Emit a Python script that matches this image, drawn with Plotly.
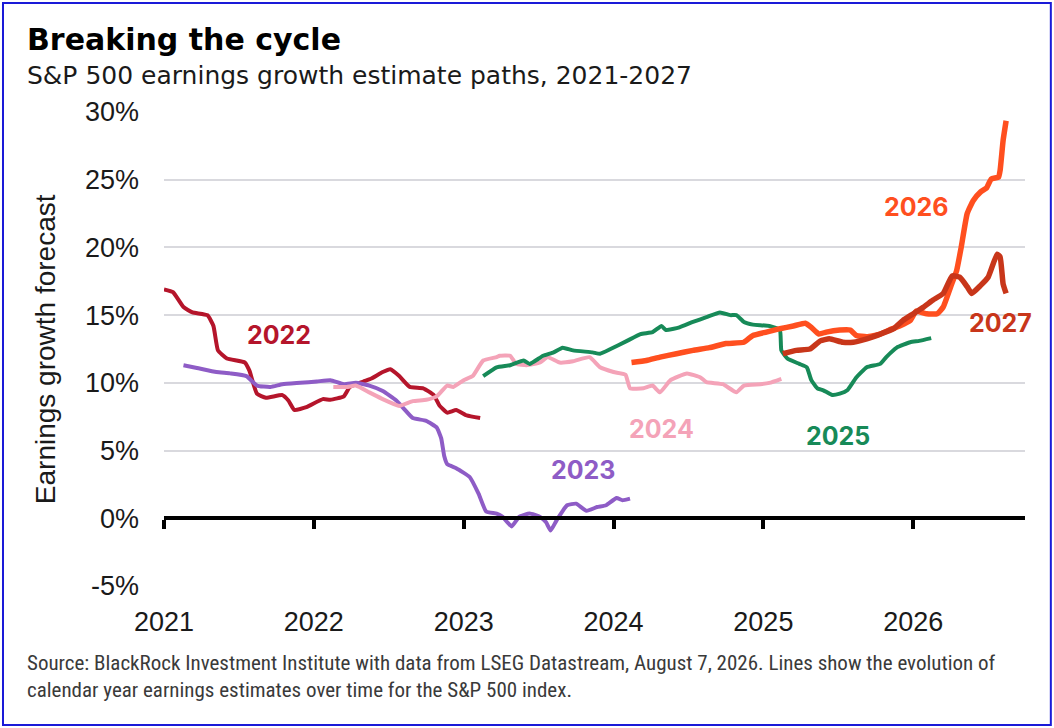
import plotly.graph_objects as go

# Earnings growth estimate paths (x = decimal year, y = % growth forecast)
yr_2022 = [2021.00, 2021.06, 2021.13, 2021.19, 2021.29, 2021.33, 2021.36, 2021.42, 2021.54, 2021.57,
           2021.62, 2021.68, 2021.79, 2021.83, 2021.87, 2021.95, 2022.06, 2022.11, 2022.20, 2022.24,
           2022.33, 2022.38, 2022.46, 2022.51, 2022.57, 2022.64, 2022.73, 2022.80, 2022.84, 2022.89,
           2022.95, 2023.02, 2023.11]
val_2022 = [16.9, 16.7, 15.6, 15.2, 15.0, 14.2, 12.4, 11.8, 11.5, 10.9,
            9.2, 8.9, 9.1, 8.7, 8.0, 8.2, 8.8, 8.75, 9.0, 9.7,
            10.1, 10.3, 10.8, 11.0, 10.5, 9.7, 9.6, 9.1, 8.3, 7.8,
            8.0, 7.6, 7.4]

yr_2023 = [2021.13, 2021.22, 2021.35, 2021.44, 2021.55, 2021.62, 2021.71, 2021.79, 2021.91, 2022.02,
           2022.11, 2022.20, 2022.28, 2022.37, 2022.46, 2022.55, 2022.60, 2022.66, 2022.75, 2022.82,
           2022.85, 2022.87, 2022.89, 2022.95, 2023.04, 2023.10, 2023.15, 2023.22, 2023.26, 2023.32,
           2023.37, 2023.44, 2023.51, 2023.55, 2023.58, 2023.62, 2023.69, 2023.75, 2023.82, 2023.89,
           2023.95, 2024.02, 2024.06, 2024.11]
val_2023 = [11.3, 11.1, 10.8, 10.7, 10.5, 9.8, 9.7, 9.9, 10.0, 10.1,
            10.2, 9.9, 10.0, 9.8, 9.4, 8.7, 8.1, 7.4, 7.2, 6.7,
            5.9, 4.6, 4.0, 3.7, 3.05, 1.8, 0.5, 0.35, 0.1, -0.6,
            0.1, 0.35, 0.1, -0.3, -0.9, -0.15, 0.96, 1.08, 0.55, 0.83,
            0.96, 1.5, 1.33, 1.45]

yr_2024 = [2022.13, 2022.22, 2022.28, 2022.37, 2022.46, 2022.57, 2022.66, 2022.75, 2022.82, 2022.89,
           2022.93, 2023.00, 2023.06, 2023.13, 2023.22, 2023.24, 2023.31, 2023.35, 2023.42, 2023.51,
           2023.56, 2023.64, 2023.73, 2023.84, 2023.91, 2024.00, 2024.08, 2024.11, 2024.20, 2024.26,
           2024.31, 2024.38, 2024.49, 2024.58, 2024.62, 2024.73, 2024.82, 2024.87, 2024.98, 2025.04,
           2025.12]
val_2024 = [9.7, 9.7, 9.8, 9.3, 8.8, 8.3, 8.65, 8.75, 9.0, 9.8,
            9.7, 10.2, 10.5, 11.65, 11.9, 12.0, 12.0, 11.4, 11.3, 11.5,
            11.9, 11.5, 11.6, 11.9, 11.15, 10.8, 10.6, 9.6, 9.6, 9.8,
            9.3, 10.2, 10.7, 10.4, 10.05, 9.9, 9.3, 9.8, 9.9, 10.0,
            10.3]

yr_2025 = [2023.13, 2023.22, 2023.31, 2023.40, 2023.44, 2023.53, 2023.60, 2023.66, 2023.73, 2023.86,
           2023.91, 2023.98, 2024.09, 2024.18, 2024.26, 2024.32, 2024.35, 2024.44, 2024.53, 2024.62,
           2024.71, 2024.78, 2024.82, 2024.87, 2024.93, 2025.04, 2025.11, 2025.12, 2025.16, 2025.24,
           2025.29, 2025.32, 2025.36, 2025.40, 2025.46, 2025.51, 2025.56, 2025.62, 2025.69, 2025.78,
           2025.82, 2025.89, 2025.98, 2026.04, 2026.12]
val_2025 = [10.5, 11.15, 11.3, 11.65, 11.4, 12.0, 12.25, 12.6, 12.4, 12.25,
            12.15, 12.5, 13.1, 13.6, 13.75, 14.2, 13.9, 14.1, 14.5, 14.85,
            15.2, 15.0, 15.0, 14.5, 14.3, 14.2, 13.9, 12.4, 11.8, 11.4,
            11.15, 10.2, 9.6, 9.45, 9.1, 9.2, 9.45, 10.4, 11.15, 11.4,
            11.9, 12.6, 13.0, 13.1, 13.3]

yr_2026 = [2024.12, 2024.22, 2024.31, 2024.42, 2024.53, 2024.64, 2024.75, 2024.87, 2024.93, 2025.02,
           2025.11, 2025.20, 2025.28, 2025.32, 2025.37, 2025.42, 2025.51, 2025.58, 2025.62, 2025.69,
           2025.78, 2025.84, 2025.91, 2025.98, 2026.02, 2026.09, 2026.16, 2026.20, 2026.25, 2026.29,
           2026.32, 2026.36, 2026.40, 2026.45, 2026.49, 2026.52, 2026.57, 2026.58, 2026.60, 2026.62]
val_2026 = [11.5, 11.65, 11.9, 12.15, 12.4, 12.6, 12.9, 13.0, 13.5, 13.75,
            14.0, 14.2, 14.4, 14.1, 13.6, 13.75, 13.9, 13.9, 13.5, 13.4,
            13.6, 13.9, 14.2, 14.6, 15.3, 15.1, 15.1, 15.6, 17.1, 18.3,
            20.0, 22.5, 23.45, 24.1, 24.4, 25.05, 25.2, 25.7, 27.9, 29.35]

yr_2027 = [2025.13, 2025.22, 2025.31, 2025.38, 2025.44, 2025.53, 2025.60, 2025.69, 2025.78, 2025.87,
           2025.93, 2026.00, 2026.07, 2026.13, 2026.20, 2026.26, 2026.31, 2026.36, 2026.39, 2026.45,
           2026.50, 2026.56, 2026.58, 2026.60, 2026.62]
val_2027 = [12.15, 12.4, 12.5, 13.1, 13.25, 13.0, 13.0, 13.25, 13.6, 14.0,
            14.6, 15.1, 15.6, 16.1, 16.6, 17.9, 17.8, 17.1, 16.6, 17.2,
            17.8, 19.5, 19.3, 17.3, 16.6]

series_names = ["2022", "2023", "2024", "2025", "2026", "2027"]
series_x = [yr_2022, yr_2023, yr_2024, yr_2025, yr_2026, yr_2027]
series_y = [val_2022, val_2023, val_2024, val_2025, val_2026, val_2027]
colors = ["#B5152B", "#8E5CC6", "#F4A3B8", "#178A58", "#FF4F1F", "#C8361A"]
widths = [4, 4, 4, 4, 5.5, 5.5]
# the last two paths sit on the overlay axis that draws the 0% line with its ticks
x_refs = ["x", "x", "x", "x", "x2", "x2"]

# series label positions (decimal year, %)
label_x = [2021.77, 2023.80, 2024.32, 2025.50, 2026.02, 2026.58]
label_y = [13.5, 3.55, 6.6, 6.1, 23.0, 14.4]

year_ticks = [2021, 2022, 2023, 2024, 2025, 2026]
year_text = ["2021", "2022", "2023", "2024", "2025", "2026"]
pct_ticks = [-5, 0, 5, 10, 15, 20, 25, 30]
pct_text = ["-5%", "0%", "5%", "10%", "15%", "20%", "25%", "30%"]
x_range = [2021, 2026.746]

fig = go.Figure()

for name, xs, ys, c, w, xr in zip(series_names, series_x, series_y, colors, widths, x_refs):
    fig.add_trace(go.Scatter(x=xs, y=ys, mode="lines", name=name, xaxis=xr,
                             line=dict(color=c, width=w, shape="spline", smoothing=0.4),
                             showlegend=False))

for name, lx, ly, c in zip(series_names, label_x, label_y, colors):
    fig.add_annotation(x=lx, y=ly, text=name, showarrow=False,
                       font=dict(family="Inter", size=25, color=c, weight=700))

TXT = "#1a1a1a"
SANS = "Liberation Sans, Arial"
NARROW = "Liberation Sans Narrow, Roboto Condensed, DejaVu Sans Condensed"

fig.update_layout(
    width=1054, height=728,
    margin=dict(l=164, r=29, t=112, b=142),
    paper_bgcolor="white", plot_bgcolor="white",
    font=dict(family=SANS, color=TXT),
    xaxis=dict(range=x_range, tickvals=year_ticks, ticktext=year_text,
               showgrid=False, zeroline=False, showline=False, ticks="",
               tickfont=dict(size=27, color=TXT), ticklabelstandoff=17),
    xaxis2=dict(overlaying="x", anchor="free", position=5 / 35,
                range=x_range, tickvals=year_ticks, showticklabels=False,
                showgrid=False, zeroline=False, showline=True, linecolor="black",
                linewidth=3.5, ticks="outside", ticklen=9, tickwidth=3.5, tickcolor="black"),
    yaxis=dict(range=[-5, 30], tickvals=pct_ticks, ticktext=pct_text,
               showgrid=True, gridcolor="#D9D9DE", gridwidth=2, zeroline=False,
               showline=False, ticks="", tickfont=dict(size=27, color=TXT),
               ticklabelstandoff=24),
)

# title, subtitle, axis title and source note
fig.add_annotation(xref="paper", yref="paper", x=-0.1614, y=1.153, xanchor="left", yanchor="middle",
                   text="Breaking the cycle", showarrow=False,
                   font=dict(family="DejaVu Sans", size=30, color="black", weight=700))
fig.add_annotation(xref="paper", yref="paper", x=-0.1614, y=1.078, xanchor="left", yanchor="middle",
                   text="S&P 500 earnings growth estimate paths, 2021-2027", showarrow=False,
                   font=dict(family="DejaVu Sans", size=25, color=TXT))
fig.add_annotation(xref="paper", yref="paper", x=-0.138, y=0.5, xanchor="center", yanchor="middle",
                   text="Earnings growth forecast", textangle=-90, showarrow=False,
                   font=dict(family=SANS, size=28, color=TXT))
fig.add_annotation(xref="paper", yref="paper", x=-0.1614, y=-0.1624, xanchor="left", yanchor="middle",
                   text="Source: BlackRock Investment Institute with data from LSEG Datastream, August 7, 2026. Lines show the evolution of",
                   showarrow=False, font=dict(family=NARROW, size=21, color="#3a3a3a"))
fig.add_annotation(xref="paper", yref="paper", x=-0.1614, y=-0.2194, xanchor="left", yanchor="middle",
                   text="calendar year earnings estimates over time for the S&P 500 index.",
                   showarrow=False, font=dict(family=NARROW, size=21, color="#3a3a3a"))

# blue frame round the whole picture
fig.add_shape(type="rect", xref="paper", yref="paper", x0=-0.187, x1=1.030, y0=-0.293, y1=1.230,
              line=dict(color="#1A1AD8", width=2), fillcolor="rgba(0,0,0,0)", layer="below")

fig.write_html("out.html", config={"displayModeBar": False},
               post_script="document.body.style.margin = '0';")
